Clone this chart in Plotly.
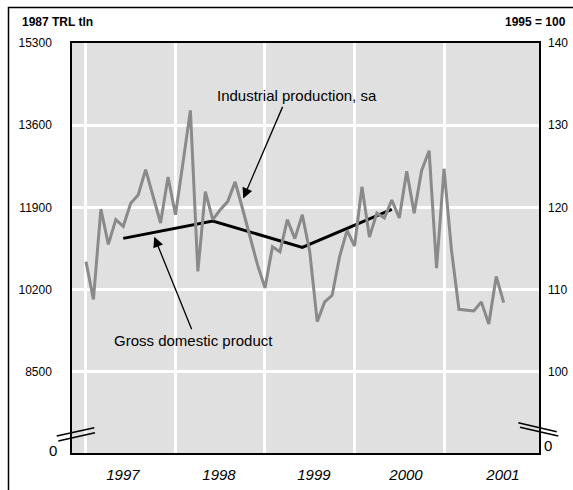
import plotly.graph_objects as go

# ---------------- data ----------------
ip_start_year = 1997  # monthly series, Jan 1997 onward (1995 = 100)
ip_index = [113.4, 108.8, 119.8, 115.5, 118.5, 117.7, 120.5, 121.5, 124.6, 121.3,
            118.1, 123.7, 119.1, 125.4, 131.8, 112.2, 121.9, 118.5, 119.7, 120.7,
            123.1, 119.8, 116.4, 113.0, 110.2, 115.2, 114.6, 118.5, 116.2, 119.1,
            114.6, 106.1, 108.5, 109.3, 114.0, 117.2, 115.3, 122.5, 116.4, 119.3,
            118.7, 120.9, 118.7, 124.4, 119.3, 124.5, 126.9, 112.6, 124.7, 114.8,
            107.6, 107.5, 107.4, 108.5, 105.8, 111.6, 108.4]

gdp_year = [1997, 1998, 1999, 2000]
gdp_trl = [11259, 11617, 11073, 11859]   # 1987 TRL tln

year_grid = [1997, 1998, 1999, 2000, 2001]
year_labels = ["1997", "1998", "1999", "2000", "2001"]
year_label_pos = [1997.413, 1998.486, 1999.547, 2000.575, 2001.659]

left_ticks = [8500, 10200, 11900, 13600, 15300]
right_ticks = [100, 110, 120, 130, 140]

# ---------------- derived positions ----------------
ip_x = [ip_start_year + i / 12 for i in range(len(ip_index))]
gdp_x = [y + 5 / 12 for y in gdp_year]

left_range = [6819, 15300]
right_range = [100 + (v - 8500) / 170 for v in left_range]
x_range = [1996.844, 2002.061]

FONT = "Liberation Sans, Arial, Helvetica, sans-serif"

W, H = 573, 490
ML, MR, MT, MB = 72, 34, 43, 37
PW, PH = W - ML - MR, H - MT - MB


def px(xp):  # page pixel x -> paper
    return (xp - ML) / PW


def py(yp):  # page pixel y -> paper
    return (H - MB - yp) / PH


fig = go.Figure()

fig.add_trace(go.Scatter(
    x=ip_x, y=ip_index, mode="lines", yaxis="y2",
    line=dict(color="#8a8a8a", width=3), showlegend=False, hoverinfo="skip"))

fig.add_trace(go.Scatter(
    x=gdp_x, y=gdp_trl, mode="lines",
    line=dict(color="#000000", width=3), showlegend=False, hoverinfo="skip"))

# carrier for the year-label axis
fig.add_trace(go.Scatter(x=[], y=[], xaxis="x2", yaxis="y", mode="lines",
                         showlegend=False, hoverinfo="skip"))

shapes = []
# outer frame
shapes.append(dict(type="rect", xref="paper", yref="paper",
                   x0=px(8.5), y0=py(560), x1=px(640), y1=py(7.5),
                   line=dict(color="black", width=1.5), layer="above"))
# axis break marks
for (x0, y0, x1, y1) in [(56.7, 436, 94.3, 427.7), (58.3, 441, 95, 432.7),
                         (518.3, 422.7, 556.7, 431.7), (520, 427.3, 558.3, 436)]:
    shapes.append(dict(type="line", xref="paper", yref="paper",
                       x0=px(x0), y0=py(y0), x1=px(x1), y1=py(y1),
                       line=dict(color="black", width=1.5), layer="above"))

annotations = [
    dict(text="<b>1987 TRL tln</b>", xref="paper", yref="paper", x=px(20), y=py(22),
         xanchor="left", yanchor="middle", showarrow=False,
         font=dict(family=FONT, size=12, color="black")),
    dict(text="<b>1995 = 100</b>", xref="paper", yref="paper", x=px(568), y=py(22),
         xanchor="right", yanchor="middle", showarrow=False,
         font=dict(family=FONT, size=12, color="black")),
    dict(text="0", xref="paper", yref="paper", x=px(52.5), y=py(450.5),
         xanchor="center", yanchor="middle", showarrow=False,
         font=dict(family=FONT, size=15, color="black")),
    dict(text="0", xref="paper", yref="paper", x=px(547.5), y=py(445.3),
         xanchor="center", yanchor="middle", showarrow=False,
         font=dict(family=FONT, size=15, color="black")),
    dict(text="Industrial production, sa", xref="x", yref="y", x=1999.363, y=14222,
         xanchor="center", yanchor="middle", showarrow=False,
         font=dict(family=FONT, size=15, color="black")),
    dict(text="Gross domestic product", xref="x", yref="y", x=1998.196, y=9156,
         xanchor="center", yanchor="middle", showarrow=False,
         font=dict(family=FONT, size=15, color="black")),
    dict(text="", xref="x", yref="y", x=1998.757, y=12086, ax=40, ay=-93,
         showarrow=True, arrowhead=2, arrowsize=1.6, arrowwidth=1.3,
         arrowcolor="black", standoff=0, startstandoff=0),
    dict(text="", xref="x", yref="y", x=1997.763, y=11292, ax=38, ay=94,
         showarrow=True, arrowhead=2, arrowsize=1.6, arrowwidth=1.3,
         arrowcolor="black", standoff=0, startstandoff=0),
]

fig.update_layout(
    width=W, height=H, autosize=False,
    margin=dict(l=ML, r=MR, t=MT, b=MB, pad=0, autoexpand=False),
    paper_bgcolor="white", plot_bgcolor="#e0e0e0",
    font=dict(family=FONT, size=12, color="black"),
    showlegend=False,
    xaxis=dict(range=x_range, tickvals=year_grid, showticklabels=False,
               showgrid=True, gridcolor="white", gridwidth=2.5,
               zeroline=False, ticks="", automargin=False,
               showline=True, linecolor="black", linewidth=1.5, mirror=True),
    xaxis2=dict(range=x_range, overlaying="x", anchor="y", side="bottom",
                tickvals=year_label_pos, ticktext=year_labels,
                showgrid=False, zeroline=False, ticks="", showline=False,
                ticklabelstandoff=11, automargin=False,
                tickfont=dict(family=FONT, size=15, style="italic", color="black")),
    yaxis=dict(range=left_range, tickvals=left_ticks, tickformat="d",
               showgrid=True, gridcolor="white", gridwidth=2.5,
               zeroline=False, ticks="", ticklabelstandoff=16, automargin=False,
               showline=True, linecolor="black", linewidth=1.5, mirror=True,
               tickfont=dict(family=FONT, size=12, color="black")),
    yaxis2=dict(range=right_range, tickvals=right_ticks, tickformat="d",
                overlaying="y", side="right",
                anchor="x", showgrid=False, zeroline=False, ticks="",
                ticklabelstandoff=8, showline=False, automargin=False,
                tickfont=dict(family=FONT, size=12, color="black")),
    shapes=shapes,
    annotations=annotations,
)

page_fix = (
    "document.documentElement.style.margin='0';"
    "document.documentElement.style.overflow='hidden';"
    "document.body.style.margin='0';"
    "document.body.style.overflow='hidden';"
    "document.body.style.height='490px';"
    "document.body.style.lineHeight='0';"
    "var g=document.getElementsByClassName('plotly-graph-div');"
    "for(var i=0;i<g.length;i++){g[i].style.display='block';}"
)

fig.write_html("out.html", config={"displayModeBar": False}, post_script=page_fix)
